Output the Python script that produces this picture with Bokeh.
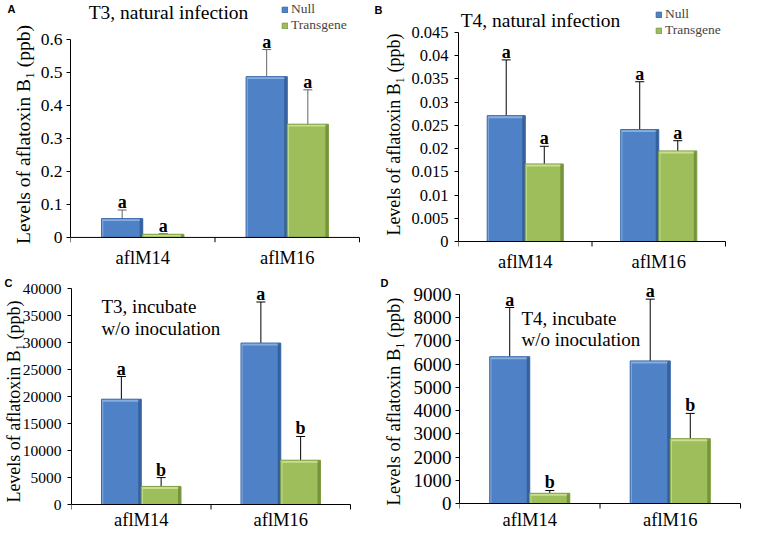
from bokeh.plotting import figure
from bokeh.models import (Range1d, FixedTicker, NumeralTickFormatter, Whisker, TeeHead,
                          Label, LabelSet, Legend, LegendItem, ColumnDataSource, LinearAxis)
from bokeh.layouts import row, column
from bokeh.embed import file_html
from bokeh.resources import INLINE
from bokeh.core.properties import value

categories = ["aflM14", "aflM16"]
series = ["Null", "Transgene"]
y_label = "Levels of aflatoxin B\u2081 (ppb)"

a_null = [0.057, 0.487]
a_null_lo = [0.031, 0.406]
a_null_hi = [0.083, 0.569]
a_trans = [0.0095, 0.343]
a_trans_lo = [0.0078, 0.242]
a_trans_hi = [0.0112, 0.447]
a_null_sig = ["a", "a"]
a_trans_sig = ["a", "a"]
a_yticks = [0, 0.1, 0.2, 0.3, 0.4, 0.5, 0.6]

b_null = [0.0271, 0.0241]
b_null_lo = [0.0151, 0.0139]
b_null_hi = [0.0391, 0.0344]
b_trans = [0.0167, 0.0195]
b_trans_lo = [0.0131, 0.0176]
b_trans_hi = [0.0205, 0.0217]
b_null_sig = ["a", "a"]
b_trans_sig = ["a", "a"]
b_yticks = [0, 0.005, 0.01, 0.015, 0.02, 0.025, 0.03, 0.035, 0.04, 0.045]

c_null = [19500, 29900]
c_null_lo = [15250, 22250]
c_null_hi = [23700, 37500]
c_trans = [3350, 8200]
c_trans_lo = [1750, 3900]
c_trans_hi = [4980, 12600]
c_null_sig = ["a", "a"]
c_trans_sig = ["b", "b"]
c_yticks = [0, 5000, 10000, 15000, 20000, 25000, 30000, 35000, 40000]

d_null = [6320, 6140]
d_null_lo = [4250, 3490]
d_null_hi = [8440, 8800]
d_trans = [440, 2790]
d_trans_lo = [350, 1720]
d_trans_hi = [560, 3880]
d_null_sig = ["a", "a"]
d_trans_sig = ["b", "b"]
d_yticks = [0, 1000, 2000, 3000, 4000, 5000, 6000, 7000, 8000, 9000]

SERIF = "Liberation Serif"
BAR_W = 0.285
OFFS = [-0.1425, 0.1425]
STYLE = {
    "Null": dict(fill="#4F81C6", light="#86ACE0", dark="#2F5B94", line="#3A6AA8"),
    "Transgene": dict(fill="#9DBE5A", light="#C7DF8F", dark="#6F8C36", line="#7F9E42"),
}


class Panel:
    def __init__(self, w, h, frame_left, axis_end, axis_y, top_y, bottom_border,
                 yticks, yfmt, data, err_color, tick_size, tick_standoff, ylab_size,
                 ylab_standoff, cat_size, cat_base):
        self.fl = frame_left
        self.fb = h - bottom_border
        self.axis_y = axis_y
        ymax = yticks[-1]
        ncat = len(categories)
        px_x = (axis_end - frame_left) / ncat
        px_y = (axis_y - top_y) / ymax
        self.px_y = px_y
        x_end = (w - frame_left) / px_x
        y_start = -(self.fb - axis_y) / px_y
        y_end = axis_y / px_y
        p = figure(width=w, height=h, x_range=Range1d(0, x_end), y_range=Range1d(y_start, y_end),
                   x_axis_location=None, output_backend="svg", toolbar_location=None,
                   min_border_left=frame_left, min_border_right=0,
                   min_border_top=0, min_border_bottom=bottom_border)
        self.p = p
        p.xgrid.visible = False
        p.ygrid.visible = False
        p.outline_line_color = None

        mains = []
        for k, name in enumerate(series):
            vals, lo, hi, sig = data[name]
            st = STYLE[name]
            xs = [i + 0.5 + OFFS[k] for i in range(ncat)]
            src = ColumnDataSource(dict(x=xs, top=vals, lo=lo, hi=hi, sig=sig))
            r = p.vbar(x="x", top="top", bottom=0, width=BAR_W, source=src,
                       fill_color=st["fill"], line_color=None)
            d = 2.5 / px_y
            top_src = ColumnDataSource(dict(x=xs, top=vals, bot=[max(v - d, 0) for v in vals]))
            p.vbar(x="x", top="top", bottom="bot", width=BAR_W, source=top_src,
                   fill_color=st["light"], line_color=None)
            ew_l = 1.8 / px_x
            ew_r = 3.0 / px_x
            lsrc = ColumnDataSource(dict(x=[x - BAR_W / 2 + ew_l / 2 for x in xs], top=vals))
            p.vbar(x="x", top="top", bottom=0, width=ew_l, source=lsrc,
                   fill_color=st["light"], fill_alpha=0.8, line_color=None)
            rsrc = ColumnDataSource(dict(x=[x + BAR_W / 2 - ew_r / 2 for x in xs], top=vals))
            p.vbar(x="x", top="top", bottom=0, width=ew_r, source=rsrc,
                   fill_color=st["dark"], fill_alpha=0.85, line_color=None)
            ro = p.vbar(x="x", top="top", bottom=0, width=BAR_W, source=src,
                        fill_color=None, line_color=st["line"], line_width=1)
            mains.append([r, ro])

            wh = Whisker(base="x", upper="hi", lower="lo", source=src, dimension="height",
                         line_color=err_color, line_width=1,
                         upper_head=TeeHead(size=9, line_color=err_color, line_width=1),
                         lower_head=TeeHead(size=9, line_color=err_color, line_width=1))
            p.add_layout(wh)
            p.add_layout(LabelSet(x="x", y="hi", text="sig", source=src, text_align="center",
                                  text_baseline="alphabetic", y_offset=2,
                                  text_font=value(SERIF), text_font_style="bold",
                                  text_font_size=value("18px"), text_color="black"))
        self.mains = mains

        # category axis drawn in data space
        bx = list(range(ncat + 1))
        p.segment(x0=bx[0], y0=0, x1=bx[-1], y1=0, line_color="black", line_width=1)
        tick_len = 5 / px_y
        p.segment(x0=bx, y0=[0] * len(bx), x1=bx, y1=[-tick_len] * len(bx),
                  line_color="black", line_width=1)
        csrc = ColumnDataSource(dict(x=[i + 0.5 for i in range(ncat)], y=[0] * ncat, t=categories))
        p.add_layout(LabelSet(x="x", y="y", text="t", source=csrc, text_align="center",
                              text_baseline="alphabetic", y_offset=-cat_base,
                              text_font=value(SERIF), text_font_size=value(cat_size),
                              text_color="black"))

        ya = p.yaxis[0]
        ya.bounds = (0, ymax)
        ya.ticker = FixedTicker(ticks=yticks)
        ya.formatter = NumeralTickFormatter(format=yfmt)
        ya.major_tick_out = 4
        ya.major_tick_in = 0
        ya.minor_tick_line_color = None
        ya.major_tick_line_color = "black"
        ya.axis_line_color = "black"
        ya.major_label_text_font = SERIF
        ya.major_label_text_font_size = tick_size
        ya.major_label_text_color = "black"
        ya.major_label_standoff = tick_standoff
        ya.axis_label = y_label
        ya.axis_label_text_font = SERIF
        ya.axis_label_text_font_style = "normal"
        ya.axis_label_text_font_size = ylab_size
        ya.axis_label_text_color = "black"
        ya.axis_label_standoff = ylab_standoff

    def label(self, x, y, text, size, align="left"):
        self.p.add_layout(Label(x=x - self.fl, y=self.fb - y, x_units="screen", y_units="screen",
                                text=text, text_font=SERIF, text_font_size=size,
                                text_align=align, text_baseline="alphabetic",
                                text_color="black"))

    def letter(self, text, x, y_top):
        self.p.add_layout(Label(x=x, y=self.fb - y_top, x_units="screen", y_units="screen",
                                text=text, text_font="Liberation Sans", text_font_style="bold",
                                text_font_size="11px", text_baseline="top",
                                text_color="black"), "left")

    def axis_letter(self, text, y_center, standoff):
        v = (self.axis_y - y_center) / self.px_y
        ax = LinearAxis(ticker=FixedTicker(ticks=[v]), major_label_overrides={v: text},
                        axis_line_color=None, major_tick_line_color=None,
                        minor_tick_line_color=None, major_tick_out=0, major_tick_in=0,
                        major_label_standoff=standoff,
                        major_label_text_font="Liberation Sans",
                        major_label_text_font_style="bold",
                        major_label_text_font_size="11px", major_label_text_color="black")
        self.p.add_layout(ax, "left")

    def legend(self, x, y_bottom):
        leg = Legend(items=[LegendItem(label=s, renderers=r) for s, r in zip(series, self.mains)],
                     location=(x - self.fl, self.fb - y_bottom), orientation="vertical",
                     glyph_width=7, glyph_height=7, label_height=13, label_standoff=3,
                     spacing=0, padding=0, margin=0, label_text_font=SERIF,
                     label_text_font_size="13.5px", background_fill_alpha=0,
                     border_line_color=None)
        self.p.add_layout(leg)


A = Panel(371, 276, 70, 359, 244, 40, 0, a_yticks, "0.[0]",
          {"Null": (a_null, a_null_lo, a_null_hi, a_null_sig),
           "Transgene": (a_trans, a_trans_lo, a_trans_hi, a_trans_sig)},
          "#666666", "17.5px", 4, "19.5px", 4, "18.5px", 27)
A.label(168, 20, "T3, natural infection", "19.5px", align="center")
A.legend(281, 41)
A.axis_letter("A", 9, -6)

B = Panel(371, 276, 87, 354, 241, 32, 8, b_yticks, "0.[000]",
          {"Null": (b_null, b_null_lo, b_null_hi, b_null_sig),
           "Transgene": (b_trans, b_trans_lo, b_trans_hi, b_trans_sig)},
          "black", "16.5px", 6, "18px", 4, "18.5px", 26)
B.label(169, 20, "T4, natural infection", "19.5px", align="center")
B.legend(284, 38)
B.letter("B", 1, 3)

C = Panel(371, 255, 71, 350, 228, 12, 5, c_yticks, "0",
          {"Null": (c_null, c_null_lo, c_null_hi, c_null_sig),
           "Transgene": (c_trans, c_trans_lo, c_trans_hi, c_trans_sig)},
          "black", "15.5px", 6, "18px", -4, "18.5px", 21)
C.label(101, 30, "T3, incubate", "19px")
C.label(101, 52, "w/o inoculation", "19px")
C.axis_letter("C", 6, -12)

D = Panel(371, 255, 88, 369, 227, 18, 5, d_yticks, "0",
          {"Null": (d_null, d_null_lo, d_null_hi, d_null_sig),
           "Transgene": (d_trans, d_trans_lo, d_trans_hi, d_trans_sig)},
          "black", "19px", 4, "18.5px", 7, "18.5px", 22)
D.label(150, 41.5, "T4, incubate", "19px")
D.label(150, 63, "w/o inoculation", "19px")
D.axis_letter("D", 6, -8)

layout = column(row(A.p, B.p, spacing=0), row(C.p, D.p, spacing=0), spacing=0)
open("out.html", "w").write(file_html(layout, INLINE))
